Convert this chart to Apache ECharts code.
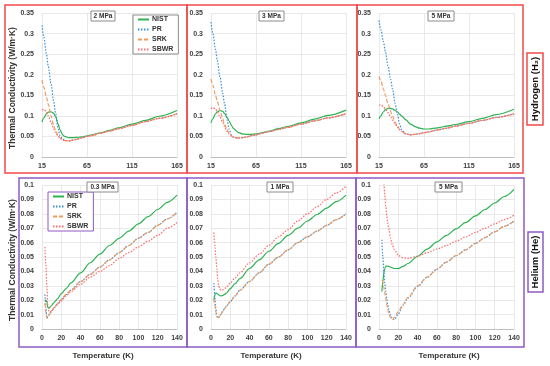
<!DOCTYPE html>
<html>
<head>
<meta charset="utf-8">
<script src="https://cdn.jsdelivr.net/npm/echarts@6/dist/echarts.min.js"></script>
<style>html,body{margin:0;padding:0;background:#fff}#c{width:550px;height:366px}</style>
</head>
<body>
<div id="c"></div>
<script>
// ---------- DATA ----------
var seriesNames = ['NIST', 'PR', 'SRK', 'SBWR'];
var h2Panels = ['2 MPa', '3 MPa', '5 MPa'];
var hePanels = ['0.3 MPa', '1 MPa', '5 MPa'];
var h2XTicks = [15, 65, 115, 165];
var heXTicks = [0, 20, 40, 60, 80, 100, 120, 140];

// Hydrogen temperatures (K)
var h2T = [15,17,20,22,25,28,30,33,35,38,40,45,50,55,60,65,70,80,90,100,115,130,145,165];
// 2 MPa
var h2_2_NIST = [0.085,0.095,0.105,0.109,0.110,0.106,0.098,0.080,0.066,0.054,0.050,0.047,0.047,0.048,0.049,0.051,0.054,0.059,0.065,0.071,0.080,0.089,0.099,0.113];
var h2_2_PR   = [0.320,0.292,0.250,0.220,0.178,0.135,0.107,0.068,0.052,0.044,0.041,0.039,0.041,0.044,0.047,0.050,0.052,0.058,0.063,0.069,0.077,0.086,0.094,0.105];
var h2_2_SRK  = [0.187,0.170,0.145,0.128,0.100,0.077,0.065,0.052,0.046,0.042,0.040,0.039,0.041,0.044,0.047,0.050,0.052,0.058,0.063,0.069,0.077,0.086,0.094,0.105];
var h2_2_SBWR = [0.115,0.116,0.110,0.100,0.085,0.068,0.060,0.050,0.045,0.042,0.040,0.039,0.041,0.044,0.047,0.050,0.052,0.058,0.063,0.069,0.077,0.086,0.094,0.105];
// 3 MPa
var h2_3_NIST = [0.083,0.093,0.105,0.110,0.113,0.111,0.106,0.096,0.088,0.076,0.069,0.060,0.056,0.055,0.055,0.056,0.058,0.063,0.069,0.074,0.083,0.092,0.101,0.114];
var h2_3_PR   = [0.328,0.300,0.262,0.235,0.195,0.155,0.130,0.090,0.068,0.052,0.048,0.046,0.047,0.049,0.052,0.054,0.057,0.062,0.067,0.072,0.080,0.088,0.095,0.105];
var h2_3_SRK  = [0.190,0.175,0.150,0.135,0.113,0.093,0.080,0.066,0.058,0.051,0.048,0.046,0.047,0.049,0.052,0.054,0.057,0.062,0.067,0.072,0.080,0.088,0.095,0.105];
var h2_3_SBWR = [0.117,0.120,0.117,0.110,0.097,0.083,0.074,0.062,0.056,0.050,0.048,0.046,0.047,0.049,0.052,0.054,0.057,0.062,0.067,0.072,0.080,0.088,0.095,0.105];
// 5 MPa
var h2_5_NIST = [0.093,0.100,0.110,0.115,0.118,0.118,0.117,0.113,0.110,0.104,0.100,0.090,0.080,0.074,0.070,0.068,0.068,0.071,0.075,0.079,0.086,0.094,0.103,0.116];
var h2_5_PR   = [0.332,0.310,0.280,0.257,0.222,0.188,0.165,0.130,0.108,0.080,0.066,0.056,0.054,0.055,0.057,0.059,0.061,0.066,0.070,0.075,0.082,0.089,0.096,0.105];
var h2_5_SRK  = [0.196,0.185,0.165,0.150,0.130,0.110,0.099,0.085,0.077,0.067,0.062,0.056,0.054,0.055,0.057,0.059,0.061,0.066,0.070,0.075,0.082,0.089,0.096,0.105];
var h2_5_SBWR = [0.126,0.127,0.122,0.117,0.108,0.097,0.090,0.080,0.074,0.066,0.062,0.056,0.054,0.055,0.057,0.059,0.061,0.066,0.070,0.075,0.082,0.089,0.096,0.105];

// Helium temperatures (K)
var heT = [3,4,5,6,7,8,9,10,12,14,16,20,25,30,40,50,60,70,80,90,100,110,120,130,140];
// 0.3 MPa
var he_03_NIST = [0.020,0.020,0.019,0.015,0.0145,0.015,0.0158,0.0165,0.018,0.0195,0.021,0.0245,0.028,0.032,0.039,0.046,0.052,0.058,0.063,0.068,0.073,0.078,0.083,0.088,0.093];
var he_03_PR   = [0.024,0.015,0.0075,0.0085,0.0095,0.0105,0.0115,0.0125,0.0145,0.016,0.0175,0.0205,0.024,0.027,0.033,0.038,0.043,0.048,0.053,0.058,0.063,0.067,0.072,0.0765,0.081];
var he_03_SRK  = [0.018,0.012,0.0075,0.0085,0.0095,0.0105,0.0115,0.0125,0.0145,0.016,0.0175,0.0205,0.024,0.027,0.033,0.038,0.043,0.048,0.053,0.058,0.063,0.067,0.072,0.0765,0.081];
var he_03_SBWR = [0.057,0.045,0.030,0.017,0.0125,0.012,0.0122,0.0127,0.014,0.0155,0.017,0.0195,0.023,0.026,0.031,0.036,0.040,0.044,0.049,0.053,0.057,0.061,0.065,0.070,0.074];
// 1 MPa
var he_1_NIST = [0.020,0.024,0.025,0.0248,0.0243,0.0237,0.0233,0.023,0.0232,0.024,0.025,0.028,0.0315,0.035,0.042,0.048,0.054,0.0595,0.065,0.070,0.075,0.0795,0.084,0.0885,0.093];
var he_1_PR   = [0.032,0.022,0.014,0.009,0.0077,0.008,0.009,0.010,0.012,0.014,0.016,0.019,0.023,0.027,0.033,0.039,0.045,0.050,0.055,0.060,0.064,0.068,0.072,0.076,0.080];
var he_1_SRK  = [0.021,0.016,0.012,0.009,0.008,0.0082,0.009,0.010,0.012,0.014,0.016,0.019,0.023,0.027,0.033,0.039,0.045,0.050,0.055,0.060,0.064,0.068,0.072,0.076,0.080];
var he_1_SBWR = [0.067,0.058,0.050,0.042,0.035,0.030,0.028,0.027,0.027,0.028,0.029,0.032,0.0355,0.039,0.046,0.052,0.058,0.064,0.069,0.075,0.080,0.085,0.090,0.0945,0.099];
// 5 MPa
var he_5_NIST = [0.026,0.033,0.039,0.042,0.0435,0.0438,0.0437,0.0435,0.043,0.0425,0.042,0.042,0.0435,0.0455,0.0505,0.0555,0.0605,0.065,0.0695,0.074,0.0785,0.083,0.0875,0.092,0.097];
var he_5_PR   = [0.062,0.050,0.040,0.032,0.026,0.021,0.017,0.014,0.0095,0.007,0.0065,0.0105,0.0165,0.0215,0.0295,0.036,0.0415,0.0465,0.051,0.055,0.0595,0.0635,0.0675,0.0713,0.075];
var he_5_SRK  = [0.034,0.033,0.029,0.025,0.021,0.017,0.014,0.011,0.0075,0.0065,0.008,0.012,0.017,0.022,0.030,0.036,0.0415,0.0465,0.051,0.055,0.0595,0.0635,0.0675,0.0713,0.075];
var he_5_SBWR = [0.130,0.115,0.102,0.093,0.085,0.079,0.074,0.070,0.063,0.058,0.055,0.051,0.0495,0.049,0.0505,0.053,0.0555,0.058,0.061,0.064,0.067,0.070,0.073,0.076,0.079];

// ---------- STYLE ----------
var FONT = 'Liberation Sans';
var colors = { NIST: '#2eb253', PR: '#3d8fd9', SRK: '#f29b5c', SBWR: '#ff6b6b' };
var dashes = { NIST: 'solid', PR: [1.5, 1.5], SRK: [4, 2], SBWR: [1.5, 1.5] };
var RED = '#f24a4a', PURPLE = '#8e5bc4';

var panelData = [
  [h2_2_NIST, h2_2_PR, h2_2_SRK, h2_2_SBWR],
  [h2_3_NIST, h2_3_PR, h2_3_SRK, h2_3_SBWR],
  [h2_5_NIST, h2_5_PR, h2_5_SRK, h2_5_SBWR],
  [he_03_NIST, he_03_PR, he_03_SRK, he_03_SBWR],
  [he_1_NIST, he_1_PR, he_1_SRK, he_1_SBWR],
  [he_5_NIST, he_5_PR, he_5_SRK, he_5_SBWR]
];
var panelLefts = [42, 211, 379];
var grids = [], xAxes = [], yAxes = [], series = [];
var labelStyle = { fontFamily: FONT, fontWeight: 'bold', fontSize: 7, color: '#404040' };
function fmt(v) { return String(+v.toFixed(3)); }

for (var p = 0; p < 6; p++) {
  var isTop = p < 3;
  grids.push({ left: panelLefts[p % 3], width: 135, top: isTop ? 13 : 185, height: 144 });
  xAxes.push({
    type: 'value', gridIndex: p,
    min: isTop ? h2XTicks[0] : heXTicks[0],
    max: isTop ? h2XTicks[h2XTicks.length - 1] : heXTicks[heXTicks.length - 1],
    interval: isTop ? 50 : 20,
    axisLine: { show: true, lineStyle: { color: '#bfbfbf', width: 1 } },
    axisTick: { show: false },
    axisLabel: Object.assign({ margin: 6, formatter: fmt }, labelStyle),
    splitLine: { show: true, lineStyle: { color: '#e3e3e3', width: 0.8 } }
  });
  yAxes.push({
    type: 'value', gridIndex: p,
    min: 0, max: isTop ? 0.35 : 0.1, interval: isTop ? 0.05 : 0.01,
    axisLine: { show: false }, axisTick: { show: false },
    axisLabel: Object.assign({ margin: 8, formatter: fmt }, labelStyle),
    splitLine: { show: true, lineStyle: { color: '#e3e3e3', width: 0.8 } }
  });
  var T = isTop ? h2T : heT;
  for (var s = 0; s < 4; s++) {
    var nm = seriesNames[s];
    var vals = panelData[p][s];
    series.push({
      name: nm, type: 'line', xAxisIndex: p, yAxisIndex: p,
      data: T.map(function (t, i) { return [t, vals[i]]; }),
      symbol: 'none', smooth: 0.3, smoothMonotone: 'x', clip: true,
      lineStyle: { color: colors[nm], width: 1.2, type: dashes[nm] },
      itemStyle: { color: colors[nm] },
      z: 2 + s
    });
  }
}

function legendCfg(left, topPos, border) {
  return {
    data: seriesNames, orient: 'vertical', left: left, top: topPos,
    itemWidth: 11, itemHeight: 7, itemGap: 3, padding: [1, 5, 1, 4],
    borderColor: border, borderWidth: 1, backgroundColor: '#fff',
    itemStyle: { opacity: 0 },
    textStyle: { fontFamily: FONT, fontWeight: 'bold', fontSize: 7, color: '#333', padding: [0, 0, 0, -2] },
    selectedMode: false
  };
}

var graphic = [];
function box(x, y, w, h, c, lw) {
  graphic.push({ type: 'rect', shape: { x: x, y: y, width: w, height: h }, style: { fill: 'none', stroke: c, lineWidth: lw }, z: 100 });
}
box(5, 5, 182, 168, RED, 1.5); box(187, 5, 170, 168, RED, 1.5); box(357, 5, 166, 168, RED, 1.5);
box(19, 178, 168, 169, PURPLE, 1.5); box(187, 178, 169, 169, PURPLE, 1.5); box(356, 178, 168, 169, PURPLE, 1.5);
box(527, 53, 16, 72, RED, 1.5);
box(528, 232, 15, 60, PURPLE, 1.5);
function text(x, y, str, size, rot, extra) {
  graphic.push({ type: 'text', x: x, y: y, rotation: rot || 0, z: 110,
    style: Object.assign({ text: str, fill: '#111', font: 'bold ' + size + 'px "' + FONT + '"', textAlign: 'center', textVerticalAlign: 'middle' }, extra || {}) });
}
text(535, 89, 'Hydrogen (H\u2082)', 9.5, Math.PI / 2);
text(535.5, 262, 'Helium (He)', 9.5, Math.PI / 2);
text(13, 88, 'Thermal Conductivity (W/m\u00B7K)', 8.5, Math.PI / 2, { fill: '#333' });
text(13, 260, 'Thermal Conductivity (W/m\u00B7K)', 8.5, Math.PI / 2, { fill: '#333' });
text(103, 356, 'Temperature (K)', 8, 0, { fill: '#333' });
text(271, 356, 'Temperature (K)', 8, 0, { fill: '#333' });
text(449, 356, 'Temperature (K)', 8, 0, { fill: '#333' });
var tagBoxes = [[91, 11, 24, 10], [259, 11, 25, 10], [428, 11, 26, 10], [87, 182, 31, 10], [267, 182, 26, 10], [435, 182, 27, 10]];
var tagTexts = h2Panels.concat(hePanels);
tagBoxes.forEach(function (b, i) {
  graphic.push({ type: 'rect', shape: { x: b[0], y: b[1], width: b[2], height: b[3] }, style: { fill: '#fff', stroke: '#8c8c8c', lineWidth: 1 }, z: 105 });
  text(b[0] + b[2] / 2, b[1] + b[3] / 2 + 0.5, tagTexts[i], 6.5, 0, { fill: '#333' });
});

var chart = echarts.init(document.getElementById('c'), null, { renderer: 'canvas' });
chart.setOption({
  animation: false,
  backgroundColor: '#fff',
  grid: grids, xAxis: xAxes, yAxis: yAxes, series: series,
  legend: [legendCfg(133, 15, '#8c8c8c'), legendCfg(48, 192, PURPLE)],
  graphic: graphic
});
</script>
</body>
</html>
